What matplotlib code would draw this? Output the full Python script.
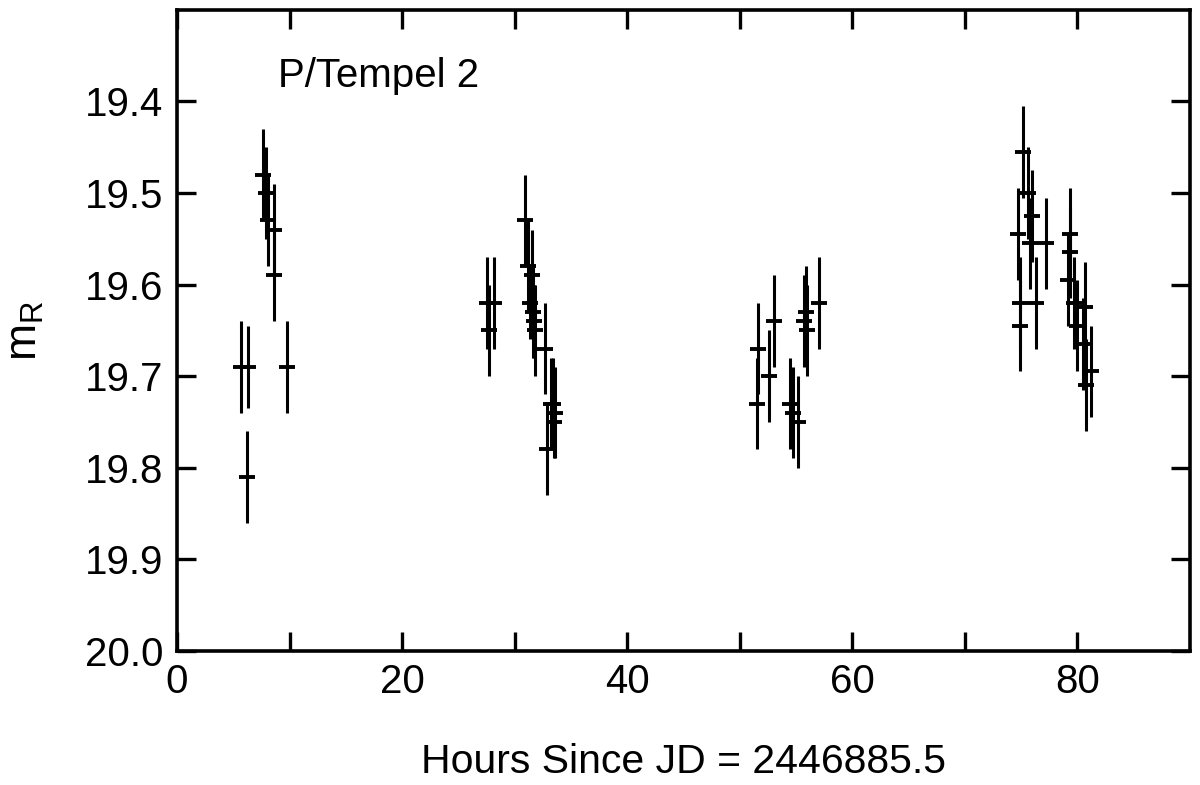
import matplotlib
matplotlib.use("Agg")
import matplotlib.pyplot as plt
from matplotlib.ticker import FixedLocator

plt.rcParams['font.family'] = ['Liberation Sans', 'DejaVu Sans']

hours = [5.7, 6.3, 6.2, 7.6, 7.9, 8.1, 8.6, 8.6, 9.8,
         27.5, 27.7, 28.2,
         30.9, 31.2, 31.5, 31.4, 31.6, 31.7, 31.8, 32.7, 33.4, 33.6, 32.9, 33.2, 33.5,
         51.5, 51.6, 52.6, 53.0, 54.5, 54.7, 55.2, 55.7, 55.9, 56.0, 57.0,
         74.7, 74.9, 74.9, 75.2, 75.6, 75.8, 76.0, 76.3, 77.2,
         79.3, 79.3, 79.2, 79.7, 80.0, 80.5, 80.7, 80.8, 81.2]
mag = [19.69, 19.69, 19.81, 19.48, 19.50, 19.53, 19.54, 19.59, 19.69,
       19.62, 19.65, 19.62,
       19.53, 19.58, 19.59, 19.62, 19.63, 19.64, 19.65, 19.67, 19.73, 19.74, 19.78, 19.73, 19.75,
       19.73, 19.67, 19.70, 19.64, 19.73, 19.74, 19.75, 19.64, 19.63, 19.65, 19.62,
       19.545, 19.62, 19.645, 19.455, 19.50, 19.555, 19.525, 19.62, 19.555,
       19.545, 19.565, 19.595, 19.62, 19.645, 19.665, 19.625, 19.71, 19.695]
err = [0.05, 0.045, 0.05, 0.05, 0.05, 0.05, 0.05, 0.05, 0.05,
       0.05, 0.05, 0.05,
       0.05, 0.05, 0.05, 0.04, 0.05, 0.04, 0.05, 0.05, 0.05, 0.05, 0.05, 0.05, 0.04,
       0.05, 0.05, 0.05, 0.05, 0.05, 0.05, 0.05, 0.05, 0.05, 0.05, 0.05,
       0.05, 0.05, 0.05, 0.05, 0.05, 0.05, 0.05, 0.05, 0.05,
       0.05, 0.05, 0.05, 0.05, 0.05, 0.05, 0.05, 0.05, 0.05]

fig = plt.figure(figsize=(12, 7.85), dpi=100)
ax = fig.add_axes([0.1475, 0.171, 0.8442, 0.8165])

ax.errorbar(hours, mag, yerr=err, fmt='_', color='black', ecolor='black',
            elinewidth=2.2, markersize=12, markeredgewidth=2.8, capsize=0)

ax.set_xlim(0, 90)
ax.set_ylim(20.0, 19.3)
ax.xaxis.set_major_locator(FixedLocator([0, 20, 40, 60, 80]))
ax.xaxis.set_minor_locator(FixedLocator([10, 30, 50, 70]))
ax.yaxis.set_major_locator(FixedLocator([19.4, 19.5, 19.6, 19.7, 19.8, 19.9, 20.0]))
ax.set_yticklabels(['19.4', '19.5', '19.6', '19.7', '19.8', '19.9', '20.0'])
ax.tick_params(axis='both', which='both', direction='in', top=True, right=True,
               width=2.4, labelsize=29, length=14)
ax.tick_params(axis='x', which='both', pad=9)
ax.tick_params(axis='y', which='both', pad=10)
for s in ax.spines.values():
    s.set_linewidth(2.6)

ax.set_xlabel('Hours Since JD = 2446885.5', fontsize=29.5, labelpad=30)
ax.set_ylabel(r'm$_\mathregular{R}$', fontsize=32, labelpad=28)
ax.text(9.0, 19.372, 'P/Tempel 2', fontsize=29, ha='left', va='center')

fig.savefig('out.png', dpi=100)
